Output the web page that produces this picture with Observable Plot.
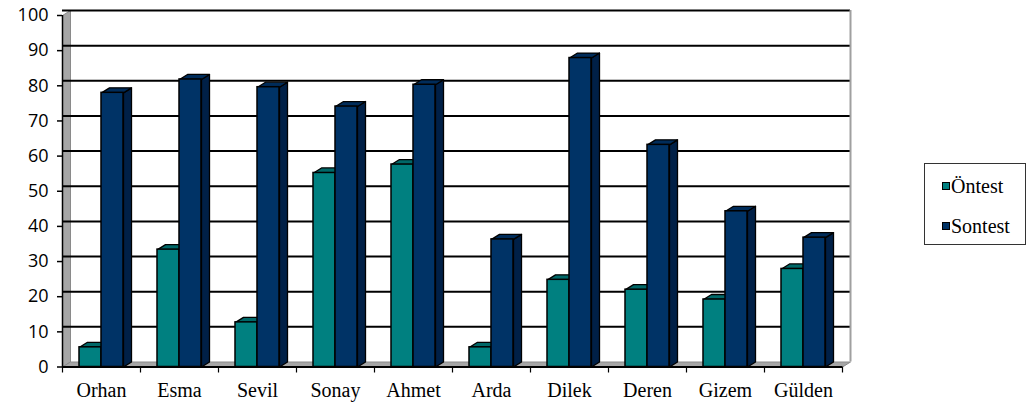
<!DOCTYPE html>
<html>
<head>
<meta charset="utf-8">
<script src="https://cdn.jsdelivr.net/npm/d3@7"></script>
<script src="https://cdn.jsdelivr.net/npm/@observablehq/plot@0.6"></script>
<style>
  html, body { margin: 0; padding: 0; background: #fff; }
  #wrap { position: relative; width: 1030px; height: 404px; }
  #legend { position: absolute; left: 924px; top: 163px; width: 102px; height: 82px;
    border: 1px solid #333; box-sizing: border-box;
    font-family: "Liberation Serif", "Times New Roman", "DejaVu Serif", serif; font-size: 20px; font-weight: normal; }
  .item { position: absolute; left: 17px; display: flex; align-items: center; line-height: 20px; }
  .sw { width: 6px; height: 6px; border: 1.5px solid #000; margin-right: 1px; }
</style>
</head>
<body>
<div id="wrap">
  <div id="chart"></div>
  <div id="legend"></div>
</div>
<script>
(function () {
const names = ["Orhan","Esma","Sevil","Sonay","Ahmet","Arda","Dilek","Deren","Gizem","Gülden"];
const ontest = [5.6, 33.4, 12.7, 55.2, 57.6, 5.6, 24.8, 22.0, 19.2, 27.9];
const sontest = [78.0, 81.8, 79.6, 74.1, 80.3, 36.3, 87.9, 63.2, 44.3, 36.8];
const seriesNames = ["Öntest", "Sontest"];
const yTicks = [0,10,20,30,40,50,60,70,80,90,100];
const gridVals = [10,20,30,40,50,60,70,80,90,100];

const serif = "'Liberation Serif', 'Times New Roman', 'DejaVu Serif', serif";

const colors = {
  "Öntest": {front: "#008080", top: "#006868", side: "#004848"},
  "Sontest": {front: "#003366", top: "#002c5a", side: "#002047"}
};

// chart frame
const fLeft = 62, fRight = 842, fTop = 15, fBottom = 366.5;
const pxX = (fRight - fLeft) / 10;       // px per category
const pxY = (fBottom - fTop) / 100;      // px per unit
const d = 8 / pxX;                       // depth offset in x units
const e = 5 / pxY;                       // depth offset in y units
const gap = 17 / pxX;                    // outer gap inside a category
const bw = (1 - 2 * gap) / 2;            // bar width in x units

function bars(vals, s, k) {
  return vals.map((v, i) => ({i, v, x1: i + gap + k * bw, x2: i + gap + (k + 1) * bw, s}));
}
function topFaces(bs) {
  const pts = [];
  bs.forEach(b => {
    [[b.x1, b.v], [b.x2, b.v], [b.x2 + d, b.v + e], [b.x1 + d, b.v + e], [b.x1, b.v]]
      .forEach(([x, y]) => pts.push({x, y, id: b.i}));
  });
  return pts;
}
function sideFaces(bs) {
  const pts = [];
  bs.forEach(b => {
    [[b.x2, 0], [b.x2, b.v], [b.x2 + d, b.v + e], [b.x2 + d, e], [b.x2, 0]]
      .forEach(([x, y]) => pts.push({x, y, id: b.i}));
  });
  return pts;
}
const bT = bars(ontest, "Öntest", 0);
const bS = bars(sontest, "Sontest", 1);

const sideWall = [[0,0],[0,100],[d,100+e],[d,e],[0,0]].map(([x,y]) => ({x, y}));
const floorPts = [[0,0],[10,0],[10+d,e],[d,e],[0,0]].map(([x,y]) => ({x, y}));

function barMarks(bs, s) {
  const c = colors[s];
  return [
    Plot.line(sideFaces(bs), {x: "x", y: "y", z: "id", fill: c.side, stroke: "#000", strokeWidth: 1.3, strokeLinejoin: "round"}),
    Plot.line(topFaces(bs), {x: "x", y: "y", z: "id", fill: c.top, stroke: "#000", strokeWidth: 1.3, strokeLinejoin: "round"}),
    Plot.rectY(bs, {x1: "x1", x2: "x2", y1: 0, y2: "v", fill: c.front, stroke: "#000", strokeWidth: 1.5})
  ];
}

const chart = Plot.plot({
  width: 1030,
  height: 404,
  marginLeft: fLeft,
  marginRight: 1030 - fRight,
  marginTop: fTop,
  marginBottom: 404 - fBottom,
  style: {fontFamily: "'Open Sans', sans-serif", fontSize: "18px", color: "#000", background: "#fff"},
  x: {domain: [0, 10], axis: null},
  y: {domain: [0, 100], axis: null},
  marks: [
    Plot.line(sideWall, {x: "x", y: "y", fill: "#a6a6a6", stroke: "#8a8a8a", strokeWidth: 1}),
    Plot.line(floorPts, {x: "x", y: "y", fill: "#a6a6a6", stroke: "#8a8a8a", strokeWidth: 1}),
    Plot.ruleY(gridVals, {y: v => v + e, x1: 0, x2: 10 + d, stroke: "#000", strokeWidth: 2}),
    Plot.ruleX([10 + d], {y1: e, y2: 100 + e, stroke: "#a0a0a0", strokeWidth: 2}),
    ...barMarks(bT, "Öntest"),
    ...barMarks(bS, "Sontest"),
    Plot.ruleY([0], {x1: 0, x2: 10, stroke: "#000", strokeWidth: 2}),
    Plot.ruleX([0], {y1: 0, y2: 100, stroke: "#000", strokeWidth: 1.5}),
    Plot.axisY({ticks: yTicks, tickSize: 5, tickPadding: 9, label: null, stroke: "#000", strokeWidth: 1.5, fontSize: 18}),
    Plot.axisX({ticks: d3.range(0, 11), tickFormat: () => "", tickSize: 6, label: null, stroke: "#000", strokeWidth: 1.2}),
    Plot.text(names, {x: (dd, i) => i + 0.5, y: 0, dy: 24, text: dd => dd, fontFamily: serif, fontSize: 20, fontWeight: "normal", fill: "#000"})
  ]
});
document.getElementById("chart").appendChild(chart);

const legend = document.getElementById("legend");
seriesNames.forEach((s, k) => {
  const it = document.createElement("div");
  it.className = "item";
  it.style.top = (k === 0 ? 12 : 52) + "px";
  const sw = document.createElement("div");
  sw.className = "sw";
  sw.style.background = colors[s].front;
  const t = document.createElement("span");
  t.textContent = s;
  it.appendChild(sw);
  it.appendChild(t);
  legend.appendChild(it);
});
})();
</script>
</body>
</html>
